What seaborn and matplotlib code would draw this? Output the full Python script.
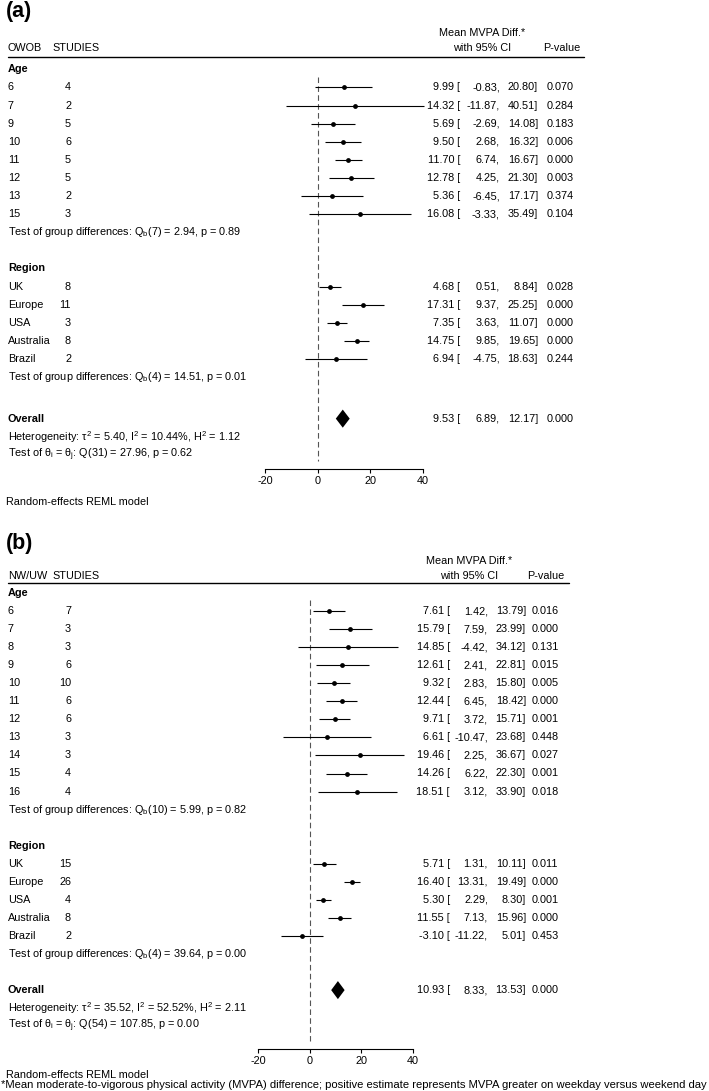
import numpy as np
import pandas as pd
import seaborn as sns
import matplotlib.pyplot as plt
from matplotlib import transforms

# ---------------- panel (a): OWOB ----------------
a_age = ['6', '7', '9', '10', '11', '12', '13', '15']
a_age_n = [4, 2, 5, 6, 5, 5, 2, 3]
a_age_est = [9.99, 14.32, 5.69, 9.50, 11.70, 12.78, 5.36, 16.08]
a_age_lo = [-0.83, -11.87, -2.69, 2.68, 6.74, 4.25, -6.45, -3.33]
a_age_hi = [20.80, 40.51, 14.08, 16.32, 16.67, 21.30, 17.17, 35.49]
a_age_p = ['0.070', '0.284', '0.183', '0.006', '0.000', '0.003', '0.374', '0.104']
a_age_test = r'Test of group differences: Q$_\mathrm{b}$(7) = 2.94, p = 0.89'

a_reg = ['UK', 'Europe', 'USA', 'Australia', 'Brazil']
a_reg_n = [8, 11, 3, 8, 2]
a_reg_est = [4.68, 17.31, 7.35, 14.75, 6.94]
a_reg_lo = [0.51, 9.37, 3.63, 9.85, -4.75]
a_reg_hi = [8.84, 25.25, 11.07, 19.65, 18.63]
a_reg_p = ['0.028', '0.000', '0.000', '0.000', '0.244']
a_reg_test = r'Test of group differences: Q$_\mathrm{b}$(4) = 14.51, p = 0.01'

a_overall = [9.53, 6.89, 12.17]
a_overall_p = '0.000'
a_het = r'Heterogeneity: τ$^2$ = 5.40, I$^2$ = 10.44%, H$^2$ = 1.12'
a_theta = r'Test of θ$_\mathrm{i}$ = θ$_\mathrm{j}$: Q(31) = 27.96, p = 0.62'

# ---------------- panel (b): NW/UW ----------------
b_age = ['6', '7', '8', '9', '10', '11', '12', '13', '14', '15', '16']
b_age_n = [7, 3, 3, 6, 10, 6, 6, 3, 3, 4, 4]
b_age_est = [7.61, 15.79, 14.85, 12.61, 9.32, 12.44, 9.71, 6.61, 19.46, 14.26, 18.51]
b_age_lo = [1.42, 7.59, -4.42, 2.41, 2.83, 6.45, 3.72, -10.47, 2.25, 6.22, 3.12]
b_age_hi = [13.79, 23.99, 34.12, 22.81, 15.80, 18.42, 15.71, 23.68, 36.67, 22.30, 33.90]
b_age_p = ['0.016', '0.000', '0.131', '0.015', '0.005', '0.000', '0.001', '0.448',
           '0.027', '0.001', '0.018']
b_age_test = r'Test of group differences: Q$_\mathrm{b}$(10) = 5.99, p = 0.82'

b_reg = ['UK', 'Europe', 'USA', 'Australia', 'Brazil']
b_reg_n = [15, 26, 4, 8, 2]
b_reg_est = [5.71, 16.40, 5.30, 11.55, -3.10]
b_reg_lo = [1.31, 13.31, 2.29, 7.13, -11.22]
b_reg_hi = [10.11, 19.49, 8.30, 15.96, 5.01]
b_reg_p = ['0.011', '0.000', '0.001', '0.000', '0.453']
b_reg_test = r'Test of group differences: Q$_\mathrm{b}$(4) = 39.64, p = 0.00'

b_overall = [10.93, 8.33, 13.53]
b_overall_p = '0.000'
b_het = r'Heterogeneity: τ$^2$ = 35.52, I$^2$ = 52.52%, H$^2$ = 2.11'
b_theta = r'Test of θ$_\mathrm{i}$ = θ$_\mathrm{j}$: Q(54) = 107.85, p = 0.00'

x_ticks = [-20, 0, 20, 40]
model_note = 'Random-effects REML model'
footnote = ('*Mean moderate-to-vigorous physical activity (MVPA) difference; '
            'positive estimate represents MVPA greater on weekday versus weekend day')

sns.set_style('white')
plt.rcParams['font.family'] = ['Liberation Sans', 'DejaVu Sans']
plt.rcParams['mathtext.fontset'] = 'custom'
plt.rcParams['mathtext.rm'] = 'Liberation Sans'
plt.rcParams['mathtext.it'] = 'Liberation Sans:italic'
plt.rcParams['mathtext.bf'] = 'Liberation Sans:bold'
plt.rcParams['axes.unicode_minus'] = False

W, H = 709, 1091
fig = plt.figure(figsize=(W / 100, H / 100), dpi=100)
FS = 7.8


def draw_panel(d, lay):
    s, y0 = lay['step'], lay['y0']
    top_row = lay['rule_row']
    bot_px = y0 + lay['axis_row'] * s
    top_px = y0 + top_row * s
    ax = fig.add_axes([lay['ax_l'] / W, 1 - bot_px / H,
                       (lay['ax_r'] - lay['ax_l']) / W, (bot_px - top_px) / H])
    ax.set_xlim(-20, 40)
    ax.set_ylim(lay['axis_row'], top_row)

    n_age = len(d['age'])
    age_y = np.arange(1, n_age + 1)
    reg_y = np.arange(n_age + 4, n_age + 4 + len(d['reg']))
    df = pd.DataFrame({
        'label': d['age'] + d['reg'],
        'n': d['age_n'] + d['reg_n'],
        'est': d['age_est'] + d['reg_est'],
        'lo': d['age_lo'] + d['reg_lo'],
        'hi': d['age_hi'] + d['reg_hi'],
        'p': d['age_p'] + d['reg_p'],
        'y': np.r_[age_y, reg_y],
    })
    ov_y = n_age + 11 + lay['ov_off']

    # reference line at 0
    ax.vlines(0, 0.4, lay['axis_row'] - 0.45, colors='#555555',
              linestyles=(0, (5, 3)), lw=0.8)
    # confidence intervals + point estimates
    ax.hlines(df['y'], df['lo'], df['hi'], colors='black', lw=0.8, clip_on=False)
    sns.scatterplot(data=df, x='est', y='y', ax=ax, color='black', s=12,
                    linewidth=0, legend=False, clip_on=False, zorder=3)
    # overall diamond
    est, lo, hi = d['overall']
    ax.fill([lo, est, hi, est], [ov_y, ov_y - 0.5, ov_y, ov_y + 0.5],
            color='black', lw=0)

    ax.set_xlabel('')
    ax.set_ylabel('')
    ax.set_yticks([])
    ax.set_xticks(x_ticks)
    for side in ['left', 'top', 'right']:
        ax.spines[side].set_visible(False)
    ax.spines['bottom'].set_bounds(-20, 40)
    ax.spines['bottom'].set_color('black')
    ax.spines['bottom'].set_linewidth(0.8)
    ax.tick_params(axis='x', bottom=True, length=3, width=0.8, pad=2,
                   labelsize=7.8, colors='black')

    tr = transforms.blended_transform_factory(fig.transFigure, ax.transData)

    def txt(x, y, t, **kw):
        kw.setdefault('fontsize', FS)
        kw.setdefault('va', 'center')
        ax.text(x / W, y, t, transform=tr, color='black', **kw)

    # headers
    txt(6, lay['title_row'], d['letter'], fontsize=15.5, fontweight='bold')
    txt(8, lay['hdr_row'], d['group'])
    txt(52, lay['hdr_row'], 'STUDIES')
    txt(lay['mean_cx'], lay['mean_row'], 'Mean MVPA Diff.*', ha='center')
    txt(lay['mean_cx'], lay['hdr_row'], 'with 95% CI', ha='center')
    txt(lay['p_cx'], lay['hdr_row'], 'P-value', ha='center')
    ax.plot([8 / W, lay['rule_r'] / W], [top_row, top_row], transform=tr,
            color='black', lw=1.0, clip_on=False)

    # rows
    txt(8, 0, 'Age', fontweight='bold')
    txt(8, n_age + 3, 'Region', fontweight='bold')
    for _, r in df.iterrows():
        txt(8, r['y'], r['label'])
        txt(71, r['y'], str(r['n']), ha='right')
        txt(lay['x_est'], r['y'], f"{r['est']:.2f} [", ha='right')
        txt(lay['x_lo'], r['y'], f"{r['lo']:.2f},", ha='right')
        txt(lay['x_hi'], r['y'], f"{r['hi']:.2f}]", ha='right')
        txt(lay['x_p'], r['y'], r['p'])
    txt(8, n_age + 1, d['age_test'])
    txt(8, n_age + 9, d['reg_test'])
    txt(8, ov_y, 'Overall', fontweight='bold')
    txt(lay['x_est'], ov_y, f"{est:.2f} [", ha='right')
    txt(lay['x_lo'], ov_y, f"{lo:.2f},", ha='right')
    txt(lay['x_hi'], ov_y, f"{hi:.2f}]", ha='right')
    txt(lay['x_p'], ov_y, d['overall_p'])
    txt(8, ov_y + 1, d['het'])
    txt(8, ov_y + 2, d['theta'])
    txt(6, lay['note_row'], model_note)
    return ax


panel_a = dict(letter='(a)', group='OWOB',
               age=a_age, age_n=a_age_n, age_est=a_age_est, age_lo=a_age_lo,
               age_hi=a_age_hi, age_p=a_age_p, age_test=a_age_test,
               reg=a_reg, reg_n=a_reg_n, reg_est=a_reg_est, reg_lo=a_reg_lo,
               reg_hi=a_reg_hi, reg_p=a_reg_p, reg_test=a_reg_test,
               overall=a_overall, overall_p=a_overall_p, het=a_het, theta=a_theta)
panel_b = dict(letter='(b)', group='NW/UW',
               age=b_age, age_n=b_age_n, age_est=b_age_est, age_lo=b_age_lo,
               age_hi=b_age_hi, age_p=b_age_p, age_test=b_age_test,
               reg=b_reg, reg_n=b_reg_n, reg_est=b_reg_est, reg_lo=b_reg_lo,
               reg_hi=b_reg_hi, reg_p=b_reg_p, reg_test=b_reg_test,
               overall=b_overall, overall_p=b_overall_p, het=b_het, theta=b_theta)

layout_a = dict(step=18.1, y0=69.3, axis_row=22.1, rule_row=-0.66, ov_off=0.3,
                ax_l=265, ax_r=423, title_row=-3.19, mean_row=-1.99, hdr_row=-1.16,
                note_row=23.9, mean_cx=482, p_cx=562, rule_r=584,
                x_est=460, x_lo=500, x_hi=538, x_p=547)
layout_b = dict(step=18.05, y0=593, axis_row=25.26, rule_row=-0.55, ov_off=0,
                ax_l=258, ax_r=413, title_row=-2.77, mean_row=-1.77, hdr_row=-0.94,
                note_row=26.7, mean_cx=469, p_cx=546, rule_r=569,
                x_est=450, x_lo=488, x_hi=526, x_p=532)

draw_panel(panel_a, layout_a)
draw_panel(panel_b, layout_b)

fig.text(1 / W, 1 - 1085 / H, footnote, fontsize=8.1, va='center', ha='left',
         color='black')

fig.savefig('out.png', dpi=100)
